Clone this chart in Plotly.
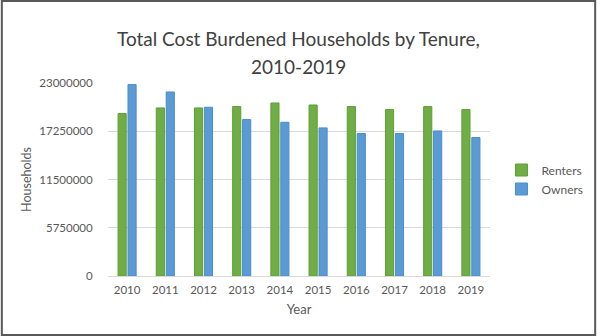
import plotly.graph_objects as go

years = ["2010", "2011", "2012", "2013", "2014", "2015", "2016", "2017", "2018", "2019"]
renters = [19360000, 20030000, 20030000, 20190000, 20620000, 20380000, 20190000, 19830000, 20190000, 19830000]
owners = [22810000, 21930000, 20110000, 18640000, 18320000, 17650000, 16980000, 16980000, 17290000, 16500000]
tick_vals = [0, 5750000, 11500000, 17250000, 23000000]
tick_text = ["0", "5750000", "11500000", "17250000", "23000000"]
title_lines = ["Total Cost Burdened Households by Tenure,", "2010-2019"]

FONT = "Lato, 'Open Sans', sans-serif"
PW, PH = 385, 193

fig = go.Figure()
fig.add_trace(go.Bar(x=years, y=renters, name="Renters",
                     marker=dict(color="#70AD47", line=dict(color="#5E9E35", width=1))))
fig.add_trace(go.Bar(x=years, y=owners, name="Owners",
                     marker=dict(color="#5B9BD5", line=dict(color="#4A8CCB", width=1))))

title_y_px = [38, 67]
annotations = [dict(text=t, xref="paper", yref="paper", x=(300 - 108) / PW,
                    y=1 + (83 - ypx) / PH, xanchor="center", yanchor="middle",
                    showarrow=False, font=dict(family=FONT, size=19, color="#404040"))
               for t, ypx in zip(title_lines, title_y_px)]

fig.update_layout(
    width=600, height=336,
    margin=dict(l=108, r=107, t=83, b=60),
    paper_bgcolor="white", plot_bgcolor="white",
    barmode="group", bargap=0.48, bargroupgap=0.18,
    font=dict(family=FONT, color="#595959", size=11),
    annotations=annotations,
    legend=dict(x=1.03, y=0.5, xanchor="left", yanchor="middle",
                font=dict(size=12, color="#595959"), tracegroupgap=0,
                itemwidth=30),
    xaxis=dict(title=dict(text="Year", font=dict(size=13, color="#595959"), standoff=10),
               showline=True, linecolor="#D9D9D9", linewidth=1,
               ticks="outside", ticklen=3, tickcolor="white",
               tickfont=dict(size=11.5, color="#595959")),
    yaxis=dict(title=dict(text="Households", font=dict(size=12.5, color="#595959"), standoff=4),
               range=[0, 23000000], tickvals=tick_vals, ticktext=tick_text,
               showgrid=True, gridcolor="#D9D9D9", gridwidth=1, zeroline=False,
               showline=False, ticks="outside", ticklen=12, tickcolor="white",
               tickfont=dict(size=11.5, color="#595959")),
    shapes=[dict(type="rect", xref="paper", yref="paper",
                 x0=-107/PW, x1=1+106/PW,
                 y0=-59/PH, y1=1+82/PH, line=dict(color="#595959", width=2))],
)

fig.write_html("out.html")
